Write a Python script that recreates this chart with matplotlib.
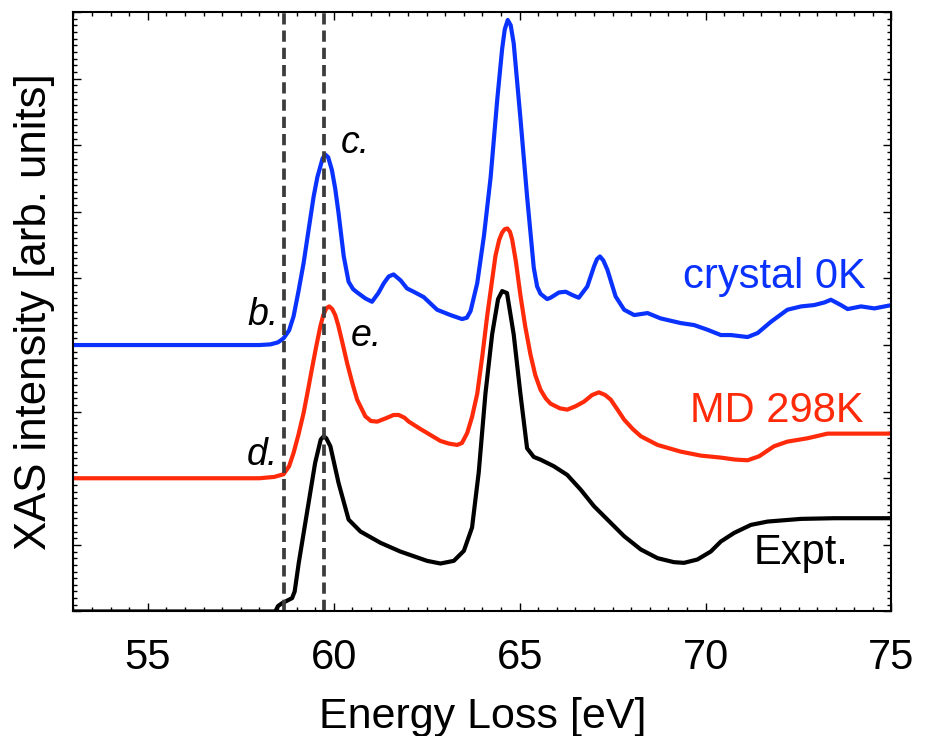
import matplotlib
matplotlib.use("Agg")
import matplotlib.pyplot as plt
from matplotlib.ticker import MultipleLocator

plt.rcParams['font.family'] = ['Liberation Sans', 'DejaVu Sans']

# crystal 0K (blue)
crystal_x = [53.0, 58.0, 58.3, 58.5, 58.65, 58.8, 58.92, 59.05, 59.19, 59.33, 59.46, 59.56, 59.64, 59.7,
             59.77, 59.85, 59.95, 60.04, 60.13, 60.27, 60.4, 60.52, 60.63, 60.85, 61.03, 61.2, 61.35,
             61.48, 61.61, 61.8, 61.97, 62.15, 62.42, 62.78, 63.14, 63.45, 63.58, 63.68, 63.86, 64.04,
             64.22, 64.4, 64.53, 64.6, 64.68, 64.76, 64.84, 65.02, 65.2, 65.38, 65.47, 65.56, 65.74,
             65.83, 66.06, 66.24, 66.42, 66.59, 66.82, 67.0, 67.08, 67.16, 67.25, 67.36, 67.58, 67.81,
             68.08, 68.44, 68.79, 69.33, 69.69, 70.05, 70.41, 70.68, 71.13, 71.4, 71.76, 72.2, 72.57,
             72.92, 73.2, 73.37, 73.64, 73.82, 74.18, 74.54, 75.0]
crystal_y = [4.0, 4.0, 4.01, 4.04, 4.1, 4.22, 4.43, 4.8, 5.23, 5.75, 6.23, 6.52, 6.68, 6.8,
             6.86, 6.82, 6.63, 6.35, 5.98, 5.33, 4.95, 4.84, 4.79, 4.7, 4.65, 4.78, 4.93,
             5.03, 5.06, 4.97, 4.85, 4.8, 4.72, 4.53, 4.45, 4.39, 4.41, 4.51, 4.93, 5.64,
             6.52, 7.70, 8.45, 8.74, 8.88, 8.8, 8.53, 7.41, 6.23, 5.16, 4.88, 4.77, 4.69,
             4.71, 4.79, 4.8, 4.75, 4.71, 4.88, 5.18, 5.29, 5.33, 5.27, 5.13, 4.73, 4.53,
             4.45, 4.48, 4.40, 4.33, 4.30, 4.23, 4.15, 4.15, 4.12, 4.18, 4.35, 4.53, 4.58,
             4.6, 4.64, 4.68, 4.6, 4.54, 4.58, 4.55, 4.6]

# MD 298K (red)
md_x = [53.0, 58.0, 58.4, 58.65, 58.8, 58.92, 59.05, 59.19, 59.3, 59.41, 59.53, 59.64, 59.72, 59.8,
        59.88, 59.96, 60.04, 60.12, 60.24, 60.36, 60.5, 60.63, 60.85, 61.0, 61.17, 61.4, 61.61,
        61.75, 61.9, 62.02, 62.33, 62.6, 62.87, 63.1, 63.32, 63.45, 63.59, 63.72, 63.86, 64.0,
        64.13, 64.35, 64.45, 64.53, 64.6, 64.67, 64.74, 64.8, 64.9, 65.02, 65.15, 65.29, 65.42,
        65.56, 65.7, 65.83, 66.08, 66.28, 66.5, 66.73, 66.95, 67.13, 67.3, 67.45, 67.62, 67.81,
        68.04, 68.26, 68.71, 69.33, 69.87, 70.41, 70.8, 71.13, 71.44, 71.84, 72.2, 72.74, 73.28,
        73.91, 75.0]
md_y = [2.0, 2.0, 2.02, 2.06, 2.18, 2.38, 2.65, 2.98, 3.3, 3.63, 3.98, 4.28, 4.45, 4.55,
        4.58, 4.54, 4.45, 4.3, 4.02, 3.73, 3.43, 3.18, 2.93, 2.86, 2.85, 2.9, 2.95,
        2.95, 2.91, 2.85, 2.74, 2.65, 2.56, 2.52, 2.50, 2.53, 2.68, 2.92, 3.27, 3.85,
        4.45, 5.34, 5.58, 5.69, 5.74, 5.75, 5.7, 5.58, 5.25, 4.75, 4.28, 3.86, 3.55,
        3.33, 3.2, 3.12, 3.05, 3.03, 3.08, 3.15, 3.25, 3.29, 3.25, 3.18, 3.04, 2.88,
        2.74, 2.63, 2.5, 2.4, 2.34, 2.31, 2.28, 2.27, 2.33, 2.48, 2.55, 2.6, 2.67,
        2.67, 2.67]

# experiment (black)
expt_x = [53.0, 58.43, 58.5, 58.6, 58.88, 58.95, 59.06, 59.28, 59.5, 59.65, 59.73, 59.8, 59.91,
          60.13, 60.4, 60.72, 61.26, 61.79, 62.15, 62.51, 62.87, 63.23, 63.5, 63.72, 63.9,
          64.08, 64.26, 64.42, 64.53, 64.66, 64.84, 65.02, 65.2, 65.38, 65.56, 65.92, 66.28,
          66.64, 67.0, 67.36, 67.81, 68.26, 68.71, 69.15, 69.42, 69.78, 70.14, 70.41, 70.77,
          71.22, 71.67, 72.57, 73.46, 75.0]
expt_y = [0.0, 0.0, 0.08, 0.12, 0.2, 0.3, 0.73, 1.48, 2.23, 2.58, 2.63, 2.6, 2.48,
          1.93, 1.38, 1.2, 1.03, 0.9, 0.83, 0.76, 0.72, 0.76, 0.91, 1.26, 2.09,
          3.27, 4.16, 4.69, 4.81, 4.78, 4.16, 3.27, 2.45, 2.32, 2.28, 2.18, 2.05,
          1.83, 1.58, 1.38, 1.13, 0.93, 0.80, 0.74, 0.73, 0.78, 0.9, 1.05, 1.18,
          1.30, 1.35, 1.39, 1.40, 1.40]

# onset / peak markers
vline_x = [58.65, 59.75]
point_labels = ['b.', 'c.', 'd.', 'e.']
point_x = [57.67, 60.18, 57.67, 60.45]
point_y = [4.30, 6.89, 2.20, 3.98]

blue = '#0a32ff'
red = '#ff2a0a'

fig = plt.figure(figsize=(9.27, 7.36), dpi=100)
ax = fig.add_axes([0.0792, 0.1692, 0.8825, 0.8145])

ax.plot(crystal_x, crystal_y, color=blue, lw=3)
ax.plot(md_x, md_y, color=red, lw=3)
ax.plot(expt_x, expt_y, color='black', lw=3)

for xv in vline_x:
    ax.axvline(xv, color='#3c3c3c', lw=2.7, dashes=(3, 1.6))

for t, xx, yy in zip(point_labels, point_x, point_y):
    ax.text(xx, yy, t, fontsize=27, style='italic', ha='left', va='baseline')

ax.text(74.31, 4.85, 'crystal 0K', color=blue, fontsize=30, ha='right', va='baseline')
ax.text(74.26, 2.84, 'MD 298K', color=red, fontsize=30, ha='right', va='baseline')
ax.text(73.85, 0.72, 'Expt.', color='black', fontsize=30, ha='right', va='baseline')

ax.set_xlim(53, 75)
ax.set_ylim(0, 9)
ax.xaxis.set_major_locator(MultipleLocator(5))
ax.xaxis.set_minor_locator(MultipleLocator(0.5))
ax.yaxis.set_major_locator(MultipleLocator(1))
ax.yaxis.set_minor_locator(MultipleLocator(0.1))
ax.tick_params(which='both', direction='in', top=True, right=True, width=1)
ax.tick_params(which='major', length=6)
ax.tick_params(which='minor', length=3)
ax.tick_params(axis='x', labelsize=30, pad=19)
ax.tick_params(axis='y', labelleft=False)
for s in ax.spines.values():
    s.set_linewidth(1.5)

# x label sits right at the bottom edge, as in the original
ax.set_xlabel('Energy Loss [eV]', fontsize=31, labelpad=14)
ax.set_ylabel('XAS intensity [arb. units]', fontsize=31.5, labelpad=10)

plt.savefig('out.png', dpi=100)
